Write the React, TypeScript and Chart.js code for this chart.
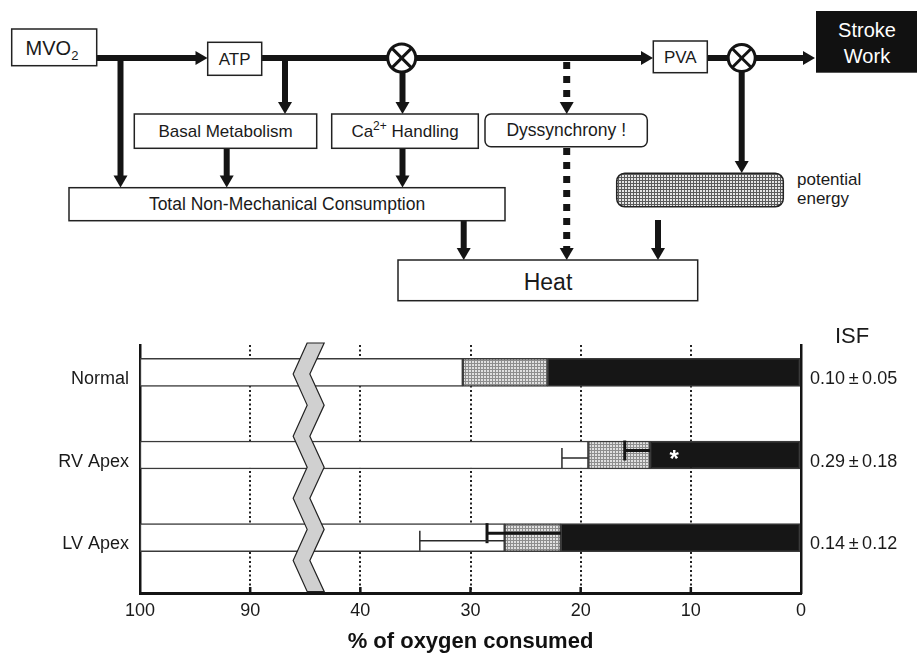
import React, { useEffect, useRef } from 'react';
import { Chart, registerables } from 'chart.js';

Chart.register(...registerables);

const FONT = '"Liberation Sans", Arial, Helvetica, sans-serif';
const INK = '#141414';

// Rows of the bar chart
const groups = ['Normal', 'RV Apex', 'LV Apex'];
// Share of myocardial oxygen consumption (%), counted from 0 at the right edge
const strokeWork = [23.0, 13.7, 21.8];
const pressureVolumeArea = [30.7, 19.3, 26.9];
// Standard deviations shown as error bars
const strokeWorkSD = [0, 2.3, 6.7];
const nonMechanicalSD = [0, 2.4, 7.7];
// Interventricular synchrony fraction per row
const isfMean = [0.1, 0.29, 0.14];
const isfSD = [0.05, 0.18, 0.12];
const significance = ['', '*', ''];
const tickValues = [0, 10, 20, 30, 40, 90, 100];

// The value axis skips 40..90: values above the break are shifted so 90 sits one step after 40.
const BREAK_LOW = 40;
const BREAK_HIGH = 90;
const BREAK_STEP = 10;
const SHIFT = BREAK_HIGH - BREAK_LOW - BREAK_STEP;
const toAxis = (v: number) => (v >= BREAK_HIGH ? v - SHIFT : v);
const fromAxis = (a: number) => (a > BREAK_LOW ? a + SHIFT : a);
const FULL = toAxis(100);
const BREAK_MARK_AT = 44.7; // axis units, inside the gap between 40 and 90

function line(ctx: CanvasRenderingContext2D, x1: number, y1: number, x2: number, y2: number) {
  ctx.beginPath();
  ctx.moveTo(x1, y1);
  ctx.lineTo(x2, y2);
  ctx.stroke();
}

const overlayPlugin = {
  id: 'o2Overlay',
  afterDatasetsDraw(chart: any) {
    const { ctx, chartArea: area } = chart;
    const xs = chart.scales.x;
    const bars = chart.getDatasetMeta(0).data;
    ctx.save();
    ctx.lineCap = 'butt';
    groups.forEach((_, i) => {
      const bar = bars[i];
      const yc = bar.y;
      if (strokeWorkSD[i] > 0) {
        const y = yc - 4.5;
        const x0 = xs.getPixelForValue(toAxis(strokeWork[i]));
        const x1 = xs.getPixelForValue(toAxis(strokeWork[i] + strokeWorkSD[i]));
        ctx.strokeStyle = INK;
        ctx.lineWidth = 3;
        line(ctx, x0, y, x1, y);
        line(ctx, x1, y - 10, x1, y + 10);
      }
      if (nonMechanicalSD[i] > 0) {
        const y = yc + 3;
        const x0 = xs.getPixelForValue(toAxis(pressureVolumeArea[i]));
        const x1 = xs.getPixelForValue(toAxis(pressureVolumeArea[i] + nonMechanicalSD[i]));
        ctx.strokeStyle = '#2a2a2a';
        ctx.lineWidth = 1.5;
        line(ctx, x0, y, x1, y);
        line(ctx, x1, y - 10, x1, y + 10);
      }
      if (significance[i]) {
        ctx.fillStyle = '#ffffff';
        ctx.font = `bold 24px ${FONT}`;
        ctx.textAlign = 'center';
        ctx.textBaseline = 'alphabetic';
        ctx.fillText(significance[i], xs.getPixelForValue(toAxis(strokeWork[i])) + 24, yc + 12);
      }
    });

    // axis break symbol
    const cx = xs.getPixelForValue(BREAK_MARK_AT);
    const top = area.top - 2;
    const bot = area.bottom - 1.5;
    const n = 8;
    const step = (bot - top) / n;
    ctx.beginPath();
    for (let k = 0; k <= n; k++) {
      const px = cx + (k % 2 === 0 ? -1.4 : -15.4);
      const py = top + k * step;
      if (k === 0) ctx.moveTo(px, py);
      else ctx.lineTo(px, py);
    }
    for (let k = n; k >= 0; k--) {
      ctx.lineTo(cx + (k % 2 === 0 ? 15.6 : 1.3), top + k * step);
    }
    ctx.closePath();
    ctx.fillStyle = '#d0d0d0';
    ctx.fill();
    ctx.strokeStyle = '#222';
    ctx.lineWidth = 1.2;
    ctx.stroke();

    // short inward tick marks on the bottom axis
    ctx.strokeStyle = INK;
    ctx.lineWidth = 2.5;
    xs.ticks.forEach((t: any) => {
      if (t.value <= 0 || t.value >= FULL) return;
      const px = xs.getPixelForValue(t.value);
      line(ctx, px, area.bottom - 6, px, area.bottom);
    });
    ctx.restore();
  },
  afterDraw(chart: any) {
    const { ctx, chartArea: area } = chart;
    const bars = chart.getDatasetMeta(0).data;
    ctx.save();
    ctx.fillStyle = '#1a1a1a';
    ctx.textBaseline = 'alphabetic';
    ctx.font = `18px ${FONT}`;
    groups.forEach((name, i) => {
      const bottom = bars[i].y + bars[i].height / 2;
      ctx.textAlign = 'right';
      ctx.fillText(name, area.left - 11, bottom - 2.5);
      ctx.textAlign = 'left';
      ctx.fillText(`${isfMean[i].toFixed(2)}\u2009\u00b1\u2009${isfSD[i].toFixed(2)}`, area.right + 9, bottom - 2.5);
    });
    ctx.font = `22px ${FONT}`;
    ctx.textAlign = 'center';
    ctx.fillText('ISF', area.right + 51, area.top - 2);
    ctx.restore();
  },
};

function makeHatch(ctx: CanvasRenderingContext2D): CanvasPattern | string {
  const tile = document.createElement('canvas');
  tile.width = 3;
  tile.height = 3;
  const t = tile.getContext('2d');
  if (!t) return '#b0b0b0';
  t.fillStyle = '#e0e0e0';
  t.fillRect(0, 0, 3, 3);
  t.fillStyle = '#8e8e8e';
  t.fillRect(0, 0, 3, 1);
  t.fillRect(0, 0, 1, 3);
  return ctx.createPattern(tile, 'repeat') || '#b0b0b0';
}

function OxygenChart() {
  const canvasRef = useRef<HTMLCanvasElement | null>(null);

  useEffect(() => {
    const canvas = canvasRef.current;
    if (!canvas) return;
    const ctx = canvas.getContext('2d');
    if (!ctx) return;
    const hatch = makeHatch(ctx);
    const border = { borderColor: '#3a3a3a', borderWidth: 1.5, borderSkipped: false as const };

    const chart = new Chart(canvas, {
      type: 'bar',
      data: {
        labels: groups,
        datasets: [
          { label: 'Stroke work', data: strokeWork.map(toAxis), backgroundColor: '#161616', stack: 'o2', ...border },
          {
            label: 'Potential energy',
            data: pressureVolumeArea.map((p, i) => p - strokeWork[i]),
            backgroundColor: hatch as any,
            stack: 'o2',
            ...border,
          },
          {
            label: 'Non-mechanical consumption',
            data: pressureVolumeArea.map((p) => FULL - toAxis(p)),
            backgroundColor: '#ffffff',
            stack: 'o2',
            ...border,
          },
          { label: '', data: groups.map(() => 0), backgroundColor: 'rgba(0,0,0,0)', borderWidth: 0, stack: 'spacer' },
        ],
      },
      options: {
        indexAxis: 'y',
        responsive: false,
        animation: false,
        barThickness: 28,
        layout: { padding: { left: 140, right: 116, top: 345, bottom: 0 } },
        plugins: { legend: { display: false }, tooltip: { enabled: false } },
        scales: {
          x: {
            type: 'linear',
            reverse: true,
            stacked: true,
            min: 0,
            max: FULL,
            afterBuildTicks: (scale: any) => {
              scale.ticks = tickValues.map((v) => ({ value: toAxis(v) }));
            },
            ticks: {
              padding: 7,
              color: '#1a1a1a',
              font: { family: FONT, size: 18 },
              callback: (value: any) => String(fromAxis(Number(value))),
            },
            grid: {
              drawTicks: false,
              lineWidth: 2,
              color: (c: any) =>
                c.tick && (c.tick.value <= 0 || c.tick.value >= FULL) ? 'rgba(0,0,0,0)' : '#222',
            },
            border: { display: true, color: INK, width: 3, dash: [2, 2.5] },
            title: {
              display: true,
              text: '% of oxygen consumed',
              color: '#111',
              font: { family: FONT, size: 22, weight: 'bold' },
              padding: { top: 0, bottom: 0 },
            },
          },
          y: {
            type: 'category',
            stacked: true,
            grid: { display: false, drawTicks: false },
            ticks: { display: false },
            border: { display: true, color: INK, width: 2.5 },
          },
          y2: {
            type: 'category',
            position: 'right',
            grid: { display: false, drawTicks: false },
            ticks: { display: false },
            border: { display: true, color: INK, width: 2.5 },
          },
        },
      } as any,
      plugins: [overlayPlugin],
    });

    return () => chart.destroy();
  }, []);

  return (
    <canvas
      ref={canvasRef}
      width={917}
      height={655}
      style={{ position: 'absolute', left: 0, top: 0, display: 'block' }}
    />
  );
}

function HArrow({ x1, x2, y }: { x1: number; x2: number; y: number }) {
  return (
    <g>
      <line x1={x1} y1={y} x2={x2 - 11} y2={y} stroke={INK} strokeWidth={6} />
      <polygon points={`${x2},${y} ${x2 - 12},${y - 7} ${x2 - 12},${y + 7}`} fill={INK} />
    </g>
  );
}

function VArrow({ x, y1, y2, dashed }: { x: number; y1: number; y2: number; dashed?: boolean }) {
  return (
    <g>
      <line
        x1={x}
        y1={y1}
        x2={x}
        y2={y2 - 11}
        stroke={INK}
        strokeWidth={dashed ? 7 : 6}
        strokeDasharray={dashed ? '7 7' : undefined}
      />
      <polygon points={`${x},${y2} ${x - 7},${y2 - 12} ${x + 7},${y2 - 12}`} fill={INK} />
    </g>
  );
}

function Multiplier({ cx, cy, r }: { cx: number; cy: number; r: number }) {
  const d = r * 0.7071;
  return (
    <g>
      <circle cx={cx} cy={cy} r={r} fill="#fff" stroke={INK} strokeWidth={3} />
      <line x1={cx - d} y1={cy - d} x2={cx + d} y2={cy + d} stroke={INK} strokeWidth={3} />
      <line x1={cx - d} y1={cy + d} x2={cx + d} y2={cy - d} stroke={INK} strokeWidth={3} />
    </g>
  );
}

function Box({ x, y, w, h, rx = 0, fill = '#fff' }: { x: number; y: number; w: number; h: number; rx?: number; fill?: string }) {
  return <rect x={x} y={y} width={w} height={h} rx={rx} ry={rx} fill={fill} stroke="#222" strokeWidth={1.5} />;
}

function FlowDiagram() {
  return (
    <svg
      width={917}
      height={330}
      style={{ position: 'absolute', left: 0, top: 0 }}
      fontFamily={FONT}
      fill="#1a1a1a"
    >
      <defs>
        <pattern id="pe-hatch" width="3" height="3" patternUnits="userSpaceOnUse">
          <rect width="3" height="3" fill="#e4e4e4" />
          <path d="M0 0.5H3M0.5 0V3" stroke="#5a5a5a" strokeWidth="1" />
        </pattern>
      </defs>

      {/* main oxygen path */}
      <HArrow x1={96} x2={207.5} y={58} />
      <line x1={261} y1={58} x2={390} y2={58} stroke={INK} strokeWidth={6} />
      <HArrow x1={414} x2={653} y={58} />
      <line x1={707} y1={58} x2={730} y2={58} stroke={INK} strokeWidth={6} />
      <HArrow x1={754} x2={815} y={58} />

      {/* branches */}
      <VArrow x={120.5} y1={58} y2={187.5} />
      <VArrow x={285} y1={58} y2={114} />
      <VArrow x={226.7} y1={148} y2={187.5} />
      <VArrow x={402.5} y1={70} y2={114} />
      <VArrow x={402.5} y1={148} y2={187.5} />
      <VArrow x={566.7} y1={62} y2={114} dashed />
      <VArrow x={566.7} y1={148} y2={260} dashed />
      <VArrow x={741.7} y1={70} y2={173} />
      <VArrow x={463.7} y1={221} y2={260} />
      <VArrow x={658} y1={220} y2={260} />

      <Multiplier cx={401.7} cy={58} r={14} />
      <Multiplier cx={741.7} cy={58} r={13.5} />

      {/* boxes */}
      <Box x={11.7} y={29} w={85} h={36.7} />
      <text x={52} y={55} textAnchor="middle" fontSize={20}>
        MVO<tspan fontSize={13} dy={5}>2</tspan>
      </text>

      <Box x={207.7} y={42.3} w={54} h={33} />
      <text x={234.7} y={65} textAnchor="middle" fontSize={17}>ATP</text>

      <Box x={134.3} y={114} w={182.4} h={34.3} />
      <text x={225.5} y={137} textAnchor="middle" fontSize={17}>Basal Metabolism</text>

      <Box x={331.7} y={114} w={146.6} h={34.3} />
      <text x={405} y={137} textAnchor="middle" fontSize={17} style={{ whiteSpace: 'pre' }}>
        Ca<tspan fontSize={12} dy={-7}>2+</tspan>
        <tspan dy={7}> Handling</tspan>
      </text>

      <Box x={485} y={114} w={162.3} h={32.7} rx={6} />
      <text x={566.2} y={136} textAnchor="middle" fontSize={17.5}>Dyssynchrony !</text>

      <Box x={653.3} y={41} w={54} h={31.7} />
      <text x={680.3} y={63} textAnchor="middle" fontSize={17}>PVA</text>

      <rect x={816} y={11} width={110} height={61.7} fill="#111" />
      <text x={867} y={37} textAnchor="middle" fontSize={20} fill="#fff">Stroke</text>
      <text x={867} y={63} textAnchor="middle" fontSize={20} fill="#fff">Work</text>

      <Box x={69} y={187.7} w={436} h={33} />
      <text x={287} y={210} textAnchor="middle" fontSize={17.5}>Total Non-Mechanical Consumption</text>

      <Box x={616.7} y={173.3} w={166.6} h={33.4} rx={8} fill="url(#pe-hatch)" />
      <text x={797} y={185} fontSize={17}>potential</text>
      <text x={797} y={204} fontSize={17}>energy</text>

      <Box x={398} y={260} w={299.7} h={40.7} />
      <text x={548} y={290} textAnchor="middle" fontSize={23}>Heat</text>
    </svg>
  );
}

export default function App() {
  return (
    <div
      style={{
        position: 'fixed',
        left: 0,
        top: 0,
        width: 917,
        height: 655,
        background: '#ffffff',
        overflow: 'hidden',
      }}
    >
      <FlowDiagram />
      <OxygenChart />
    </div>
  );
}
